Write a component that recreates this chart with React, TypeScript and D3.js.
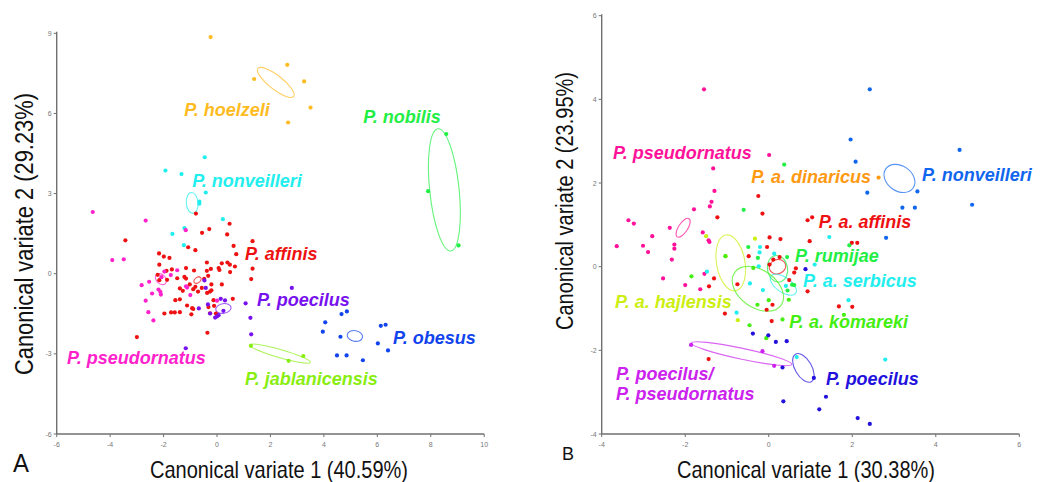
import React from "react";
import * as d3 from "d3";

type P = [number, number];
// ellipse: [cx, cy, semiMajor, semiMinor, angleDeg]
type E = [number, number, number, number, number];

// ---------------- Panel A data ----------------
const A_xTicks = [-6, -4, -2, 0, 2, 4, 6, 8, 10];
const A_yTicks = [-6, -3, 0, 3, 6, 9];

const A_hoelzeli: P[] = [[-0.24, 8.86], [2.63, 7.82], [1.39, 7.29], [3.26, 7.2], [3.5, 6.22], [2.66, 5.66]];
const A_nobilis: P[] = [[8.58, 5.23], [7.9, 3.09], [9.04, 1.06]];
const A_nonveilleri: P[] = [[-0.46, 4.36], [-1.93, 3.86], [-1.33, 3.73], [-0.42, 3.04], [-0.66, 2.7], [-0.66, 2.62], [0.22, 2.04], [-1.22, 1.71], [-1.67, 1.49], [-1.24, 1.07]];
const A_affinis: P[] = [
  [-0.79, 2.25], [0.47, 1.87], [-0.56, 1.53], [-0.29, 1.67], [0.38, 1.47], [-3.43, 1.25], [1.33, 1.22], [0.62, 1.04],
  [-1.08, 0.99], [-0.81, 0.88], [0.72, 0.73], [-2.17, 0.76], [-1.99, 0.64], [-1.78, 0.59], [-2.16, 0.34], [-1.16, 0.21],
  [-0.86, 0.12], [-0.38, 0.42], [0.18, 0.39], [0.39, 0.42], [0.48, 0.34], [0.67, 0.27], [-0.23, 0.18], [0.06, 0.21],
  [0.09, 0.14], [0.49, 0.06], [1.33, 0.19], [1.28, -0.2], [-1.69, 0.16], [-1.89, 0.11], [-2.22, -0.04], [-1.49, -0.17],
  [-1.22, -0.12], [-1.16, -0.18], [-2.16, -0.24], [-1.87, -0.23], [-0.38, 0.11], [-0.33, -0.08], [-0.48, -0.19],
  [-1.02, -0.4], [-0.81, -0.49], [-0.21, -0.4], [0.18, -0.4], [-0.71, -0.67], [-0.57, -0.53], [-0.37, -0.72],
  [-0.26, -0.67], [-0.21, -0.62], [-0.89, -0.58], [-1.39, -0.55], [-1.28, -0.64], [-1.56, -0.99], [-1.39, -0.96],
  [-1.12, -1.19], [-0.93, -1.29], [-0.89, -1.32], [-0.96, -1.52], [-1.97, -1.49], [-1.72, -1.45], [-1.58, -1.45],
  [-1.39, -1.44], [-0.13, -0.99], [-0.11, -1.2], [-0.32, -1.25], [-0.26, -1.48], [-0.04, -1.49], [0.59, -0.94],
  [-0.36, -2.21], [-3.0, -2.37],
];
const A_poecilus: P[] = [[-0.47, -0.25], [-0.42, -0.53], [-0.34, -1.15], [-0.68, -1.3], [-0.26, -1.49], [-0.07, -1.64], [0.0, -1.6], [0.06, -1.55], [0.14, -0.94], [0.3, -1.0], [0.24, -1.39], [1.07, -1.11], [1.25, -1.65], [1.28, -2.27], [-1.17, -2.79], [2.8, -0.53]];
const A_pseudornatus: P[] = [[-4.65, 2.31], [-2.67, 1.99], [-1.17, 1.63], [-3.92, 0.51], [-3.49, 0.54], [-1.97, 0.08], [-1.49, 0.13], [-2.08, -0.13], [-2.54, -0.3], [-2.82, -0.43], [-1.73, -0.05], [-2.19, -0.59], [-2.12, -0.68], [-2.1, -0.78], [-2.43, -0.74], [-2.67, -1.01], [-2.57, -1.44], [-2.38, -1.75], [-1.16, -0.47], [-1.12, -0.52], [-1.0, -0.8], [0.0, -1.01]];
const A_obesus: P[] = [[4.05, -1.82], [4.66, -1.51], [4.86, -1.41], [3.96, -2.17], [4.62, -2.36], [6.13, -1.95], [6.31, -1.91], [6.02, -2.61], [6.4, -2.87], [4.49, -3.06], [4.85, -3.06], [5.46, -3.24]];
const A_jablanicensis: P[] = [[1.27, -2.7], [2.68, -3.26], [3.23, -3.08]];

const A_ellipses: E[] = [
  [2.2, 7.16, 0.85, 0.26, -38],
  [8.51, 3.14, 2.3, 0.55, 96],
  [-0.93, 2.65, 0.39, 0.22, 95],
  [-0.73, -0.24, 0.15, 0.1, 40],
  [0.24, -1.3, 0.29, 0.18, 10],
  [-2.1, -0.2, 0.24, 0.17, -45],
  [5.16, -2.33, 0.29, 0.2, -10],
  [2.36, -2.99, 1.18, 0.15, -16],
];
const A_names = ["P. hoelzeli", "P. nobilis", "P. nonveilleri", "P. affinis", "P. poecilus", "P. pseudornatus", "P. obesus", "P. jablanicensis"];
const A_labelPos: P[] = [[-1.23, 5.91], [5.47, 5.64], [-0.93, 3.25], [1.05, 0.52], [1.5, -1.2], [-5.61, -3.37], [6.59, -2.62], [1.05, -4.16]];

// ---------------- Panel B data ----------------
const B_xTicks = [-4, -2, 0, 2, 4, 6];
const B_yTicks = [-4, -2, 0, 2, 4, 6];

const B_pseudornatus: P[] = [[-1.55, 4.24], [0.01, 2.67], [-1.33, 2.35], [-1.3, 1.81], [-1.37, 1.55], [-1.41, 1.44], [-1.79, 1.37], [-3.36, 1.11], [-3.23, 1.03], [-2.79, 0.73], [-2.37, 0.93], [-1.58, 0.82], [-1.44, 0.63], [-1.42, 0.59], [-3.64, 0.49], [-3.01, 0.5], [-2.89, 0.35], [-2.26, 0.53], [-2.26, 0.43], [-2.32, 0.17], [-2.53, -0.28], [-2.0, -0.44], [-1.54, -0.17], [-1.64, -0.54]];
const B_dinaricus: P[] = [[2.63, 2.13]];
const B_nonveilleri: P[] = [[2.42, 4.24], [1.96, 3.04], [2.08, 2.51], [2.36, 1.77], [3.56, 1.8], [3.2, 1.41], [3.5, 1.41], [4.57, 2.79], [4.87, 1.48], [2.81, 0.69]];
const B_affinis: P[] = [[-0.25, 1.69], [-0.15, 1.27], [-1.23, 1.18], [0.93, 1.11], [1.04, 1.18], [0.02, 0.7], [0.28, 0.66], [-0.04, 0.47], [0.98, 0.61], [-0.48, 0.25], [0.11, 0.17], [0.26, 0.23], [0.02, 0.05], [0.65, -0.04], [0.61, -0.14], [0.49, -0.32], [0.93, -0.59], [-1.31, -0.28], [-1.43, -0.47], [-0.75, -0.42], [1.68, -0.95], [2.0, -0.96], [1.99, 0.57], [2.12, 0.57], [0.09, -0.91], [-0.05, -1.03], [-1.05, -1.12], [0.07, -1.3], [-1.44, -2.21]];
const B_rumijae: P[] = [[0.37, 2.44], [-0.6, 1.36], [-0.49, 0.47], [-0.26, 0.21], [0.44, 0.23], [0.61, -0.44], [0.56, -0.43], [0.45, -0.57], [1.93, 0.51]];
const B_serbicus: P[] = [[-1.48, -0.12], [-0.21, 0.47], [-0.22, 0.34], [-0.24, 0.01], [0.13, 0.31], [-0.45, -0.4], [-0.14, -0.56], [0.41, -0.46], [1.1, 0.05], [1.45, 0.71], [1.91, -0.8], [-0.77, -1.1], [0.67, -2.16], [2.79, -2.22]];
const B_hajlensis: P[] = [[-1.5, 0.73], [-0.33, 0.67], [-1.03, 0.25], [-0.74, -1.28]];
const B_komareki: P[] = [[-0.37, -0.03], [-1.04, 0.25], [-1.85, -0.23], [0.48, -0.79], [-0.27, -0.91], [0.0, -0.8], [1.8, -1.15], [0.33, -1.26], [-0.46, -1.4], [-0.06, -1.71]];
const B_poecPseud: P[] = [[-1.86, -1.87], [-0.15, -2.02], [0.13, -2.37]];
const B_poecilus: P[] = [[0.88, -0.06], [-0.38, -1.6], [-0.01, -1.64], [0.17, -1.8], [0.43, -1.78], [0.33, -2.41], [1.08, -2.66], [0.35, -3.22], [1.37, -3.11], [1.21, -3.41], [2.13, -3.62], [2.42, -3.76]];

const B_ellipses: (E | null)[] = [
  [-2.05, 0.93, 0.26, 0.11, 57],
  null,
  [3.13, 2.11, 0.4, 0.3, -35],
  [0.21, 0.0, 0.2, 0.17, 20],
  [0.21, -0.05, 0.32, 0.24, 100],
  [0.35, -0.43, 0.36, 0.18, -35],
  [-0.91, 0.09, 0.68, 0.34, 100],
  [-0.26, -0.53, 0.68, 0.45, -35],
  [-0.65, -2.08, 1.23, 0.13, -12],
  [0.83, -2.42, 0.38, 0.2, -60],
];
const B_names = ["P. pseudornatus", "P. a. dinaricus", "P. nonveilleri", "P. a. affinis", "P. rumijae", "P. a. serbicus", "P. a. hajlensis", "P. a. komareki", "P. poecilus/\nP. pseudornatus", "P. poecilus"];
const B_labelPos: P[] = [[-3.73, 2.57], [-0.42, 2.0], [3.67, 2.05], [1.2, 0.92], [0.63, 0.11], [0.82, -0.49], [-3.68, -0.99], [0.49, -1.47], [-3.66, -2.72], [1.37, -2.83]];

// ---------------- styles ----------------
const A_colors = ["#ffbb22", "#22ee44", "#22eeee", "#ee1111", "#7711ee", "#ff22cc", "#1144ee", "#88ee11"];
const B_colors = ["#ff1199", "#ff9911", "#1166ee", "#ee1111", "#22ee44", "#22eeee", "#ccee11", "#44ee11", "#cc22ee", "#2211dd"];

const A_groups = [A_hoelzeli, A_nobilis, A_nonveilleri, A_affinis, A_poecilus, A_pseudornatus, A_obesus, A_jablanicensis];
const B_groups = [B_pseudornatus, B_dinaricus, B_nonveilleri, B_affinis, B_rumijae, B_serbicus, B_hajlensis, B_komareki, B_poecPseud, B_poecilus];

const LABEL_FONT = "'Liberation Sans', Arial, sans-serif";

interface PanelProps {
  xDomain: [number, number];
  yDomain: [number, number];
  xRange: [number, number];
  yRange: [number, number];
  xTicks: number[];
  yTicks: number[];
  groups: P[][];
  ellipses: (E | null)[];
  names: string[];
  labelPos: P[];
  colors: string[];
  drawOrder: number[];
}

function Panel(p: PanelProps) {
  const x = d3.scaleLinear().domain(p.xDomain).range(p.xRange);
  const y = d3.scaleLinear().domain(p.yDomain).range(p.yRange);
  const kx = Math.abs(x(1) - x(0));
  const ky = Math.abs(y(1) - y(0));
  const x0 = p.xRange[0];
  const y0 = p.yRange[0];
  const axisColor = "#707070";
  return (
    <g>
      {/* axes */}
      <line x1={x0} x2={x0} y1={p.yRange[1] - 1.5} y2={y0} stroke={axisColor} strokeWidth={1.4} />
      <line x1={x0} x2={p.xRange[1]} y1={y0} y2={y0} stroke={axisColor} strokeWidth={1.4} />
      {p.yTicks.map((t) => (
        <g key={"yt" + t}>
          <line x1={x0 - 3} x2={x0} y1={y(t)} y2={y(t)} stroke={axisColor} strokeWidth={1} />
          <text x={x0 - 5} y={y(t) + 2.5} textAnchor="end" fontSize={7} fill="#777" fontFamily={LABEL_FONT}>
            {t}
          </text>
        </g>
      ))}
      {p.xTicks.map((t) => (
        <g key={"xt" + t}>
          <line x1={x(t)} x2={x(t)} y1={y0} y2={y0 + 3} stroke={axisColor} strokeWidth={1} />
          <text x={x(t)} y={y0 + 13} textAnchor="middle" fontSize={7} fill="#777" fontFamily={LABEL_FONT}>
            {t}
          </text>
        </g>
      ))}
      {/* ellipses */}
      {p.ellipses.map((e, i) =>
        e ? (
          <ellipse
            key={"e" + i}
            cx={0}
            cy={0}
            rx={e[2] * kx}
            ry={e[3] * ky}
            transform={`translate(${x(e[0])},${y(e[1])}) rotate(${-e[4]})`}
            fill="none"
            stroke={p.colors[i]}
            strokeOpacity={0.7}
            strokeWidth={1.1}
          />
        ) : null
      )}
      {/* points */}
      {p.drawOrder.map((gi) =>
        p.groups[gi].map((d, j) => (
          <circle key={"p" + gi + "_" + j} cx={x(d[0])} cy={y(d[1])} r={2.1} fill={p.colors[gi]} />
        ))
      )}
      {/* labels */}
      {p.names.map((n, i) => {
        const lines = n.split("\n");
        return (
          <text
            key={"l" + i}
            x={x(p.labelPos[i][0])}
            y={y(p.labelPos[i][1])}
            fill={p.colors[i]}
            fontFamily={LABEL_FONT}
            fontWeight="bold"
            fontStyle="italic"
            fontSize={18}
          >
            {lines.map((ln, k) => (
              <tspan key={k} x={x(p.labelPos[i][0])} dy={k === 0 ? 0 : 19.5}>
                {ln}
              </tspan>
            ))}
          </text>
        );
      })}
    </g>
  );
}

export default function App() {
  return (
    <svg width={1049} height={482} style={{ position: "absolute", left: 0, top: 0, background: "#fff" }}>
      <rect x={0} y={0} width={1049} height={482} fill="#fff" />
      <Panel
        xDomain={[-6, 10]}
        yDomain={[-6, 9]}
        xRange={[56.7, 484.2]}
        yRange={[434, 33.3]}
        xTicks={A_xTicks}
        yTicks={A_yTicks}
        groups={A_groups}
        ellipses={A_ellipses}
        names={A_names}
        labelPos={A_labelPos}
        colors={A_colors}
        drawOrder={[0, 1, 2, 3, 5, 4, 6, 7]}
      />
      <Panel
        xDomain={[-4, 6]}
        yDomain={[-4, 6]}
        xRange={[601.7, 1019.3]}
        yRange={[434, 15.7]}
        xTicks={B_xTicks}
        yTicks={B_yTicks}
        groups={B_groups}
        ellipses={B_ellipses}
        names={B_names}
        labelPos={B_labelPos}
        colors={B_colors}
        drawOrder={[0, 1, 2, 3, 4, 5, 6, 7, 8, 9]}
      />
      {/* axis titles */}
      <text x={279} y={477.5} textAnchor="middle" fontSize={24} fontFamily={LABEL_FONT} textLength={258} lengthAdjust="spacingAndGlyphs" fill="#111">
        Canonical variate 1 (40.59%)
      </text>
      <text transform="translate(33,234) rotate(-90)" textAnchor="middle" fontSize={25} fontFamily={LABEL_FONT} textLength={282} lengthAdjust="spacingAndGlyphs" fill="#111">
        Canonical variate 2 (29.23%)
      </text>
      <text x={806} y={478} textAnchor="middle" fontSize={24} fontFamily={LABEL_FONT} textLength={258} lengthAdjust="spacingAndGlyphs" fill="#111">
        Canonical variate 1 (30.38%)
      </text>
      <text transform="translate(573,201) rotate(-90)" textAnchor="middle" fontSize={23} fontFamily={LABEL_FONT} textLength={258} lengthAdjust="spacingAndGlyphs" fill="#111">
        Canonical variate 2 (23.95%)
      </text>
      <text x={13} y={472} fontSize={25} fontFamily={LABEL_FONT} fill="#111" textLength={16} lengthAdjust="spacingAndGlyphs">A</text>
      <text x={562} y={460} fontSize={18} fontFamily={LABEL_FONT} fill="#111">B</text>
    </svg>
  );
}
